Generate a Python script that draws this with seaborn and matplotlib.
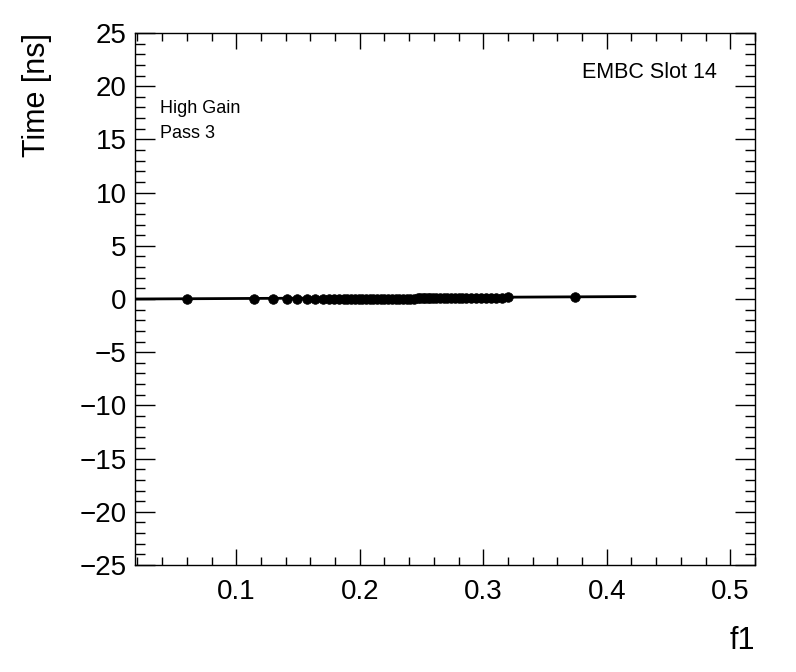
import numpy as np
import pandas as pd
import matplotlib
matplotlib.use("Agg")
import matplotlib.pyplot as plt
import seaborn as sns
from matplotlib.ticker import MultipleLocator

# f1 values and fitted times
f1 = [0.060, 0.114, 0.130, 0.141, 0.149, 0.157, 0.164, 0.170, 0.175, 0.179,
      0.183, 0.187, 0.190, 0.193, 0.196, 0.199, 0.202, 0.205, 0.208, 0.211,
      0.214, 0.217, 0.220, 0.223, 0.226, 0.229, 0.232, 0.235, 0.238, 0.241,
      0.244, 0.247, 0.249, 0.251, 0.253, 0.255, 0.257, 0.259, 0.262, 0.265,
      0.268, 0.271, 0.274, 0.277, 0.280, 0.283, 0.286, 0.290, 0.294, 0.298,
      0.302, 0.306, 0.310, 0.315, 0.320, 0.374]
time_ns = [0.00, 0.01, 0.00, 0.02, 0.01, 0.00, 0.02, 0.01, 0.00, 0.01,
           0.02, 0.00, 0.01, 0.02, 0.00, 0.01, 0.02, 0.01, 0.00, 0.02,
           0.01, 0.00, 0.02, 0.01, 0.02, 0.00, 0.01, 0.02, 0.01, 0.00,
           0.02, 0.10, 0.12, 0.11, 0.10, 0.12, 0.11, 0.12, 0.10, 0.11,
           0.12, 0.11, 0.10, 0.12, 0.11, 0.12, 0.10, 0.11, 0.12, 0.11,
           0.12, 0.10, 0.11, 0.13, 0.15, 0.20]

# linear fit: p0 + p1*f1 over the fit range
fit_p0 = -0.01
fit_p1 = 0.57
fit_range = [0.018, 0.423]

df = pd.DataFrame({"f1": f1, "time": time_ns})
fit_df = pd.DataFrame({"f1": fit_range})
fit_df["time"] = fit_p0 + fit_p1 * fit_df["f1"]

sns.set_style("ticks")
plt.rcParams["font.family"] = ["Liberation Sans", "DejaVu Sans"]
plt.rcParams["text.color"] = "black"

fig = plt.figure(figsize=(7.96, 6.72), dpi=100)
ax = fig.add_axes([0.1696, 0.1592, 0.7789, 0.7917])

sns.lineplot(data=fit_df, x="f1", y="time", color="black", linewidth=2, ax=ax)
sns.scatterplot(data=df, x="f1", y="time", color="black", s=48, marker="o",
                edgecolor="black", linewidth=0.5, ax=ax, zorder=3)

ax.set_xlim(0.018, 0.52)
ax.set_ylim(-25, 25)
ax.xaxis.set_major_locator(MultipleLocator(0.1))
ax.xaxis.set_minor_locator(MultipleLocator(0.02))
ax.yaxis.set_major_locator(MultipleLocator(5))
ax.yaxis.set_minor_locator(MultipleLocator(1))
ax.tick_params(which="both", direction="in", top=True, right=True,
               width=1, colors="black", labelsize=20)
ax.tick_params(axis="x", which="major", length=11.5, pad=10)
ax.tick_params(axis="x", which="minor", length=5.8)
ax.tick_params(axis="y", which="major", length=14.4, pad=6)
ax.tick_params(axis="y", which="minor", length=7.2)
for s in ax.spines.values():
    s.set_linewidth(1)
    s.set_color("black")

ax.set_xlabel("")
ax.set_ylabel("")
fig.text(0.047, 0.951, "Time [ns]", rotation=90, ha="center", va="top",
         fontsize=22, color="black")
fig.text(0.949, 0.046, "f1", ha="right", va="center", fontsize=22, color="black")

fig.text(0.201, 0.839, "High Gain", ha="left", va="center", fontsize=13, color="black")
fig.text(0.201, 0.801, "Pass 3", ha="left", va="center", fontsize=13, color="black")
fig.text(0.900, 0.892, "EMBC Slot 14", ha="right", va="center", fontsize=15.5,
         color="black")

fig.savefig("out.png", dpi=100, facecolor="white")
